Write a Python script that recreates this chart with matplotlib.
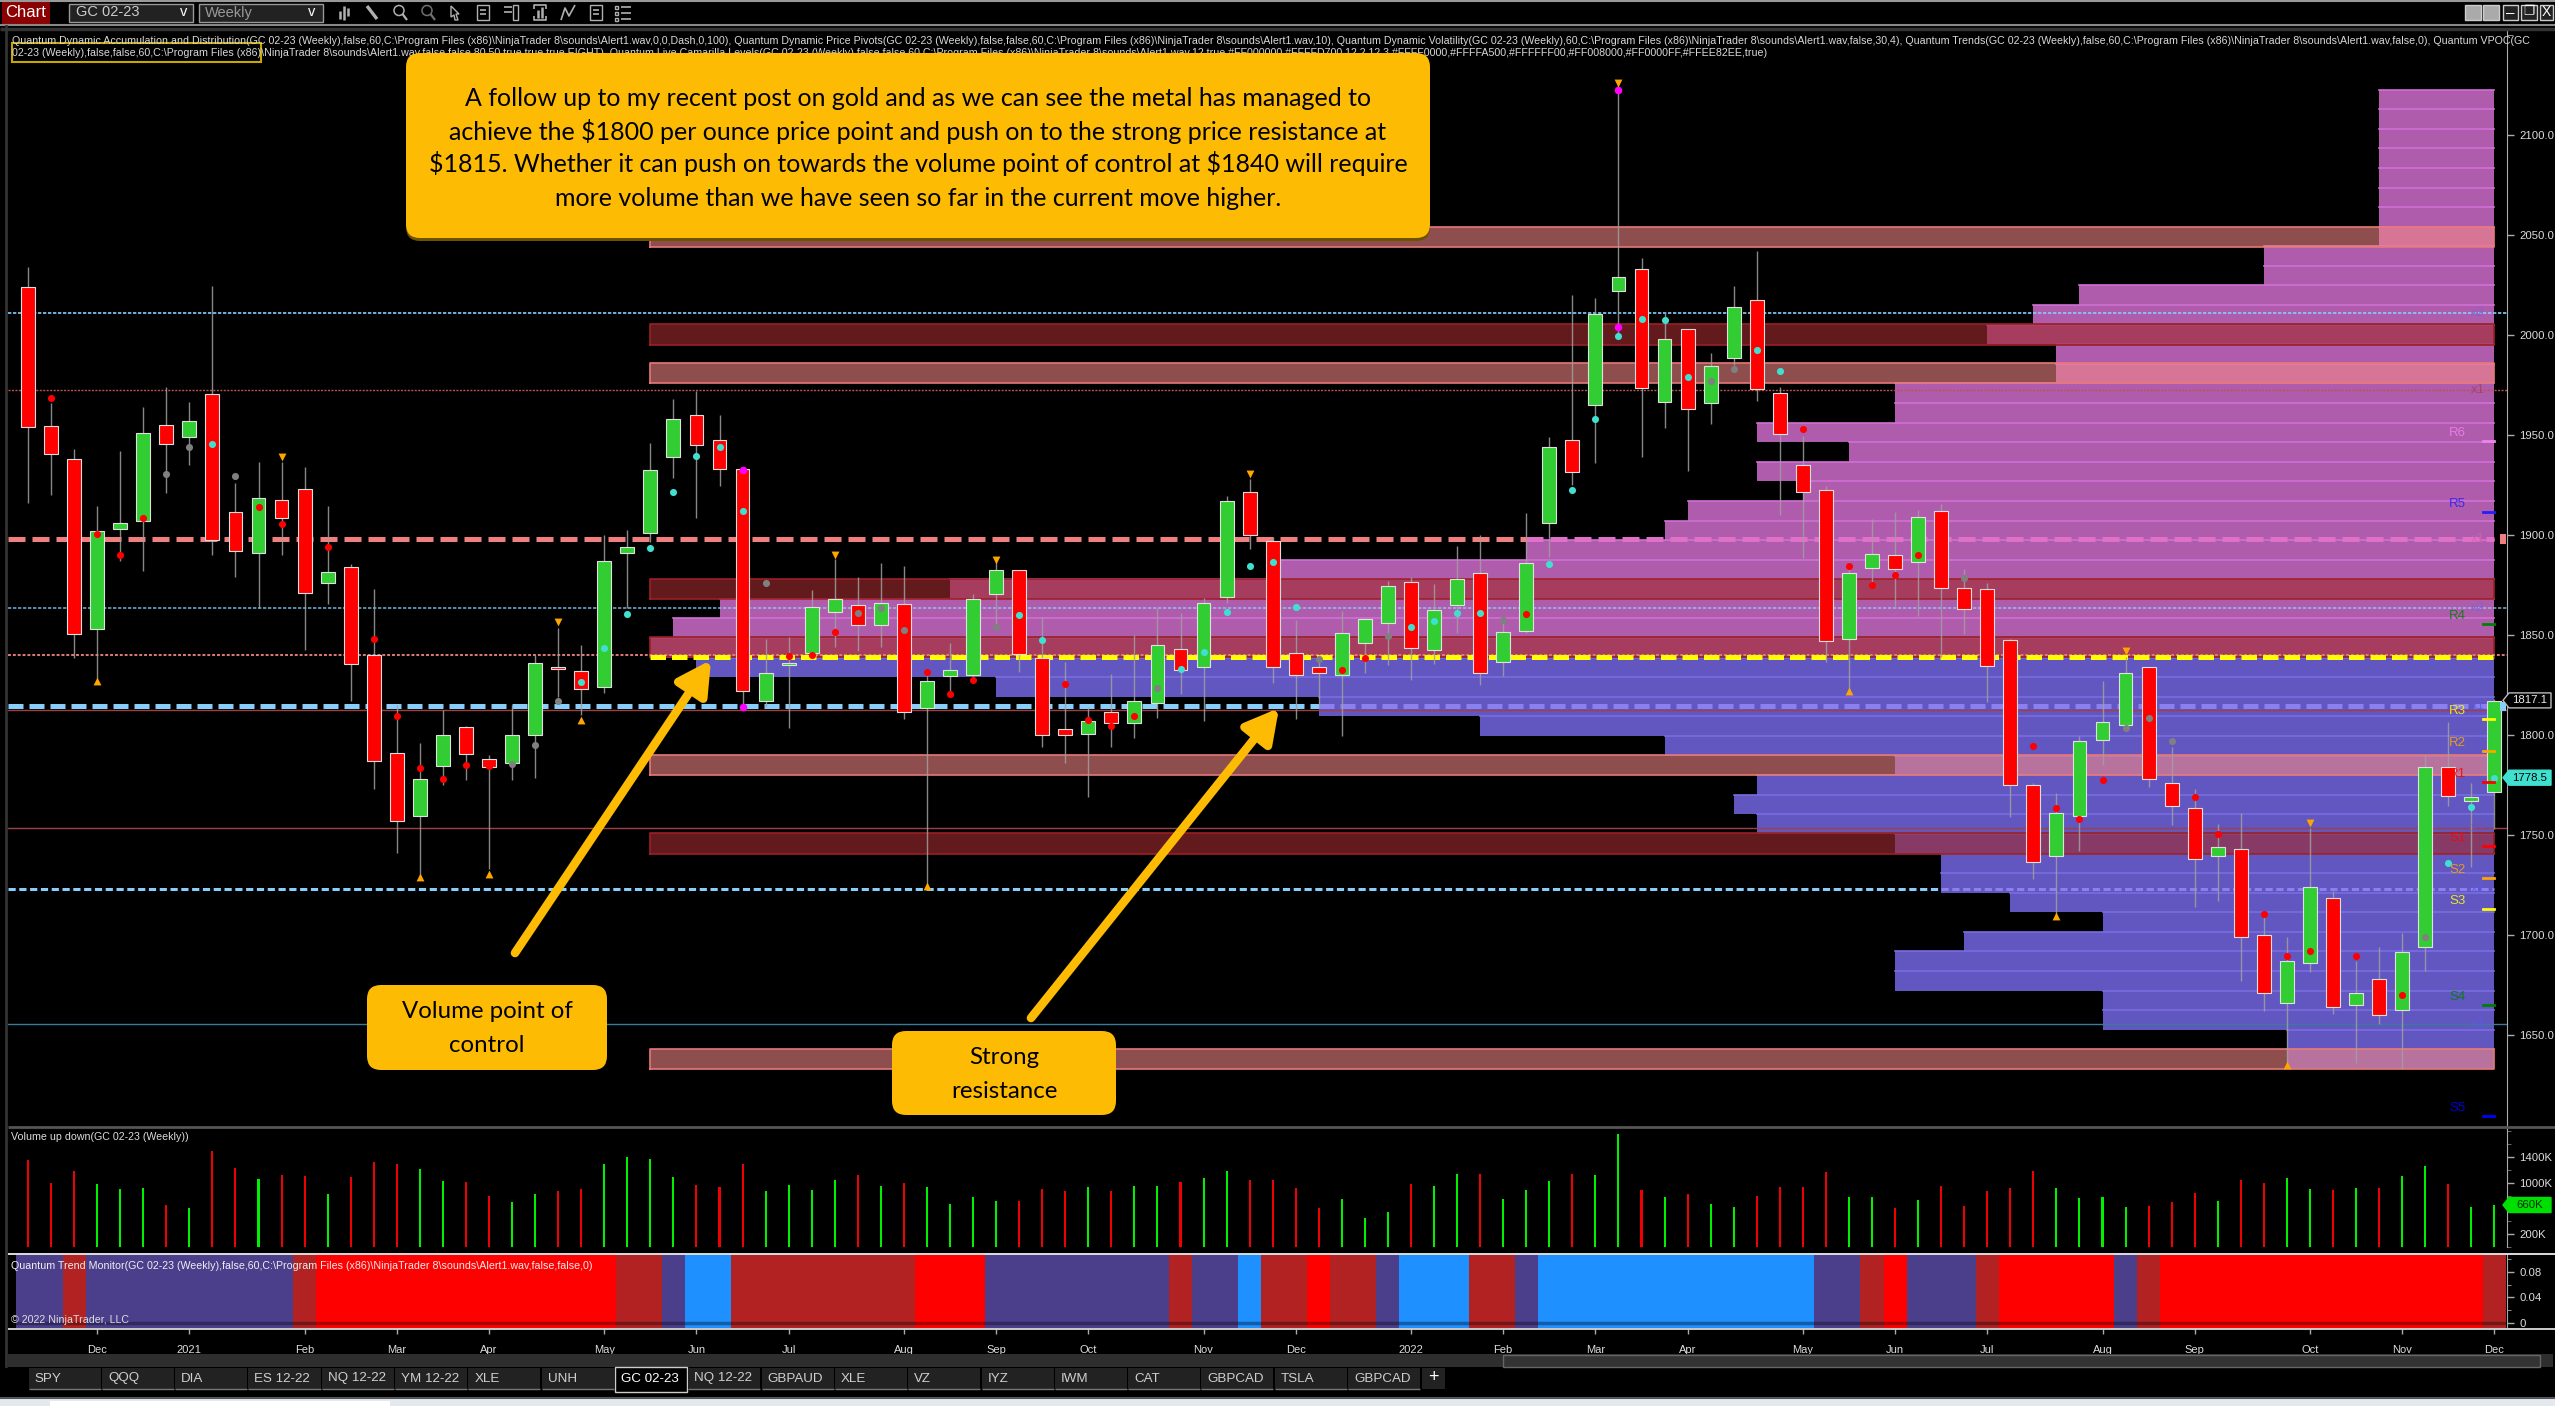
import matplotlib
matplotlib.use("Agg")
import matplotlib.pyplot as plt
from matplotlib.patches import FancyBboxPatch, FancyArrowPatch, Polygon, Rectangle, Circle

W, H = 2555, 1406

UI_FONT = "Liberation Sans"
NOTE_FONT = "Lato"

# weekly candles, GC 02-23
candle_dir = ("RRRGGGRGRR" "GRRGRRRGGR" "RGGRRGGGGR" "RRGGGGRGRG" "GGGRRRGRGG"
              "RGGRRRRGGG" "RGGRGGGRGG" "RGRGGRRRRG" "GRGRRRRRGG" "GGRRRGRRGG" "RGRGGRGG")
candle_high = [2034, 1966, 1943, 1914.5, 1942, 1964, 1974, 1966.5, 2024.5, 1926,
               1936.5, 1936.5, 1934, 1914.5, 1885.5, 1873, 1815, 1796, 1812.5, 1804.5,
               1790, 1815, 1840, 1853.5, 1845, 1900, 1902.5, 1946, 1968, 1972,
               1960, 1933, 1848, 1849, 1872.5, 1888, 1879, 1886, 1884.5, 1830.5,
               1846, 1870.5, 1886.5, 1882.5, 1859, 1836.5, 1814, 1830.5, 1850, 1863.5,
               1861, 1868.5, 1919.5, 1928, 1899, 1857.5, 1840, 1862, 1858, 1877,
               1879, 1875.5, 1894.5, 1900, 1857.5, 1911, 1949, 2020, 2018.5, 2126,
               2038.5, 2011, 2003, 1991, 2024.5, 2042, 1974, 1949.5, 1924.5, 1886.5,
               1908, 1911.5, 1912.5, 1915.5, 1883, 1876, 1848, 1776, 1771, 1799.5,
               1827, 1839, 1834, 1794, 1773, 1755.5, 1761, 1709, 1699, 1753.5,
               1722, 1687, 1694, 1701, 1790, 1806.5, 1776, 1818]
candle_top = [2024, 1954.5, 1938, 1902, 1906, 1951, 1955, 1957, 1970.5, 1911.5,
              1918.5, 1917.5, 1923, 1881.5, 1884, 1840, 1791, 1778, 1800, 1804,
              1788, 1800, 1836, 1834, 1832, 1887, 1894, 1932.5, 1958, 1960,
              1947.5, 1933, 1831, 1836, 1864, 1868, 1865, 1866, 1865.5, 1827,
              1832.5, 1868, 1882.5, 1882.5, 1838.5, 1803, 1807, 1811.5, 1817, 1845,
              1843, 1866, 1917, 1921.5, 1897, 1841, 1834, 1851, 1858, 1874.5,
              1876.5, 1862.5, 1878, 1881, 1851.5, 1886, 1944, 1947.5, 2010.5, 2029,
              2033, 1998, 2003, 1984.5, 2014, 2017.5, 1971, 1935, 1922.7, 1881,
              1890.5, 1890, 1909, 1912, 1873.7, 1873, 1847.7, 1775, 1761, 1797,
              1806.5, 1831, 1834, 1776, 1763.5, 1744, 1743, 1700, 1687, 1724,
              1718.5, 1671, 1678, 1691.5, 1784, 1784, 1769, 1817]
candle_bot = [1954, 1940.5, 1850.5, 1853, 1903, 1907, 1945.5, 1949, 1897.5, 1892,
              1891, 1908.5, 1871, 1876, 1835.5, 1787, 1757, 1759.5, 1784.5, 1790.5,
              1784, 1786, 1800, 1833, 1823, 1824, 1891, 1901, 1939, 1945,
              1933, 1822, 1817, 1835, 1841, 1861.5, 1855, 1855, 1811.5, 1813.5,
              1829.5, 1830, 1870.5, 1840.5, 1800, 1800, 1800.5, 1806, 1806, 1816,
              1832.5, 1834, 1869, 1900, 1834, 1830, 1831, 1830, 1846, 1856,
              1843.5, 1842.5, 1865, 1831, 1836.5, 1852, 1905.8, 1931.5, 1965, 2022,
              1973.5, 1966.5, 1963, 1966, 1988.5, 1973, 1950.7, 1921.5, 1847, 1848,
              1883.5, 1883, 1886.7, 1873.7, 1863, 1834.7, 1775.2, 1736.7, 1739.5, 1759.5,
              1797.5, 1805, 1778, 1764.7, 1738, 1739.5, 1699, 1671, 1666, 1686,
              1664, 1665, 1660, 1662.5, 1694, 1769.5, 1767, 1771.5]
candle_low = [1916, 1920, 1838.5, 1828, 1887, 1882, 1921, 1935, 1890, 1879,
              1863.5, 1890, 1842.5, 1865.5, 1817, 1773, 1741, 1729, 1775, 1777.5,
              1733, 1777.5, 1778.5, 1819, 1810, 1821, 1863.5, 1896.5, 1928.5, 1908.5,
              1924.5, 1814, 1814, 1803.5, 1840, 1844, 1842, 1844, 1808, 1724,
              1820, 1827, 1853.5, 1831.5, 1794, 1786, 1769, 1794, 1798.5, 1808.5,
              1820.5, 1807, 1866, 1893, 1826, 1808, 1814, 1799.5, 1831, 1835,
              1827.5, 1835.5, 1851, 1825, 1829.5, 1851, 1889, 1925, 1936, 2001,
              1939, 1953.5, 1932, 1955.5, 1985, 1967, 1910, 1888.5, 1836.5, 1822.5,
              1873.5, 1863.5, 1859.5, 1839, 1850.5, 1816.5, 1759, 1728, 1710, 1742,
              1785, 1803, 1774, 1755, 1714, 1717, 1677, 1662, 1635, 1681.5,
              1660.5, 1636, 1655.5, 1633, 1682, 1764.5, 1734, 1753]

# indicator dots: bar index and price
red_i = [1, 3, 4, 5, 10, 11, 13, 15, 16, 17, 18, 19, 20, 33, 34, 35, 39, 40, 41, 45, 46, 47, 48,
         57, 58, 65, 77, 79, 80, 81, 82, 87, 88, 89, 90, 94, 95, 97, 98, 99, 101, 103]
red_p = [1968.5, 1900.5, 1890, 1908.5, 1914, 1905.5, 1894, 1848, 1809.5, 1783.5, 1778, 1785, 1784.5,
         1839.5, 1840, 1851.5, 1831.5, 1820.7, 1827.5, 1825.5, 1807.5, 1804.7, 1809.5,
         1832.7, 1838.5, 1860.5, 1953, 1884.5, 1875, 1880, 1890, 1794.7, 1763.5, 1758, 1777.7,
         1769, 1750.5, 1710.7, 1689.3, 1692, 1689.3, 1670]
cyan_i = [8, 24, 25, 26, 27, 28, 29, 30, 31, 43, 44, 50, 51, 52, 53, 54, 55, 60, 61, 62, 63,
          66, 67, 68, 69, 70, 71, 72, 75, 76, 105, 106, 107]
cyan_p = [1945.5, 1826.5, 1843.5, 1860.5, 1893.5, 1921.5, 1939.5, 1944, 1912, 1860, 1847.5,
          1833, 1841.5, 1861.5, 1884.5, 1886.5, 1864, 1854, 1857, 1861, 1861,
          1885.6, 1922.5, 1958, 1999.5, 2008, 2007.5, 1979, 1992.5, 1982, 1736, 1764, 1778.5]
gray_i = [6, 7, 9, 21, 22, 23, 32, 36, 37, 38, 42, 49, 56, 59, 64, 73, 74, 84, 91, 92, 93, 104]
gray_p = [1930.5, 1944, 1929.5, 1785.5, 1795, 1817, 1876, 1861, 1863.7, 1852.5, 1854, 1823.5,
          1838, 1849.5, 1857.5, 1977, 1983, 1878.5, 1803.5, 1808.5, 1797, 1699]
magenta_i = [69, 69, 31, 31]
magenta_p = [2122.5, 2004, 1932.5, 1814]
tri_up_i = [3, 17, 20, 24, 39, 79, 88, 98]
tri_up_p = [1827, 1729, 1730.5, 1807.5, 1724.5, 1822, 1709.5, 1635]
tri_dn_i = [11, 23, 35, 42, 53, 69, 91, 99]
tri_dn_p = [1939, 1856.5, 1890, 1887.5, 1930.5, 2126, 1842, 1756]

# volume profile, top row first
vp_top = 2122.7
vp_step = 9.794
vp_volume = [5, 5, 5, 5, 5, 5, 5, 5, 10, 10, 18, 20, 22, 19, 19, 26, 26, 32, 28, 32, 30,
             35, 36, 42, 53, 67, 77, 79, 80, 78, 65, 51, 44, 36, 26, 32, 33, 32, 26, 24, 24,
             21, 17, 23, 26, 26, 17, 17, 9, 9]
vp_right = 107
vp_upper_rows = 29

# supply and demand zones (high, low)
light_zones = [(2054, 2044), (1986, 1976), (1790, 1780), (1643, 1633)]
dark_zones = [(2005.5, 1995), (1878, 1868), (1849, 1839), (1751, 1740.7)]
zone_start = 27

# camarilla pivots
pivot_names = ["R6", "R5", "R4", "R3", "R2", "R1", "S1", "S2", "S3", "S4", "S5"]
pivot_prices = [1947, 1911.5, 1855.7, 1808, 1792, 1776.5, 1744.5, 1728.5, 1713, 1665, 1609.5]
pivot_colors = ["#EE82EE", "#2020FF", "#008000", "#FFFF00", "#FFA500", "#FF0000",
                "#FF0000", "#FFA500", "#FFFF00", "#008000", "#0000FF"]

vol_labels = [("x2", 2011, "#7a62d8"), ("x1", 1972.5, "#a0406a"), ("x1", 1897.8, "#d860b0"),
              ("x2", 1863.5, "#7a62d8"), ("x1", 1814.5, "#5a5ae8"), ("x1", 1753.7, "#7a50a0"),
              ("x1", 1723, "#5a5ae8"), ("x1", 1655.7, "#5a5ae8")]

# volume in thousands, one per candle
volume = [1352, 998, 1180, 988, 905, 915, 650, 603, 1498, 1227, 1056, 1118, 1102, 832, 1087, 1326,
          1290, 1212, 1030, 1009, 790, 697, 822, 868, 900, 1290, 1404, 1368, 1092, 967, 936, 1290,
          868, 962, 884, 1040, 1123, 946, 998, 936, 676, 775, 718, 712, 900, 868, 931, 868, 946,
          946, 1009, 1071, 1186, 1040, 1050,
          926, 608, 749, 447, 541, 988, 946, 1144, 1144, 744, 884, 1024, 1144, 1123, 1758, 884,
          780, 822, 676, 624, 790, 931, 936, 1165, 775, 775, 603, 738, 946, 634, 874, 915, 1180,
          915, 759, 775, 619, 634, 697, 837, 712, 1040, 993, 1082, 900, 884, 926, 926, 1102, 1258,
          988, 624, 650]

# trend monitor states as runs of bars
trend_states = ["slate", "brown", "slate", "brown", "red", "brown", "slate", "blue", "brown", "red",
                "slate", "brown", "slate", "blue", "brown", "red", "brown", "slate", "blue", "brown",
                "slate", "blue", "slate", "brown", "red", "slate", "brown", "red", "slate", "brown",
                "red", "brown"]
trend_runs = [2, 1, 9, 1, 13, 2, 1, 2, 8, 3, 8, 1, 2, 1, 2, 1, 2, 1, 3, 2, 1, 12, 2, 1, 1, 3, 1, 5, 1, 1, 14, 1]
trend_colors = {"slate": "#4B3F8C", "brown": "#B22222", "red": "#FF0000", "blue": "#1E90FF"}

month_ticks = [3, 7, 12, 16, 20, 25, 29, 33, 38, 42, 46, 51, 55, 60, 64, 68, 72, 77, 81, 85, 90, 94, 99, 103, 107]
month_labels = ["Dec", "2021", "Feb", "Mar", "Apr", "May", "Jun", "Jul", "Aug", "Sep", "Oct", "Nov", "Dec",
                "2022", "Feb", "Mar", "Apr", "May", "Jun", "Jul", "Aug", "Sep", "Oct", "Nov", "Dec"]

tab_names = ["SPY", "QQQ", "DIA", "ES 12-22", "NQ 12-22", "YM 12-22", "XLE", "UNH", "GC 02-23", "NQ 12-22",
             "GBPAUD", "XLE", "VZ", "IYZ", "IWM", "CAT", "GBPCAD", "TSLA", "GBPCAD"]

indicator_line1 = (r"Quantum Dynamic Accumulation and Distribution(GC 02-23 (Weekly),false,60,C:\Program Files (x86)\NinjaTrader 8\sounds\Alert1.wav,0,0,Dash,0,100), "
                   r"Quantum Dynamic Price Pivots(GC 02-23 (Weekly),false,false,60,C:\Program Files (x86)\NinjaTrader 8\sounds\Alert1.wav,10), "
                   r"Quantum Dynamic Volatility(GC 02-23 (Weekly),60,C:\Program Files (x86)\NinjaTrader 8\sounds\Alert1.wav,false,30,4), "
                   r"Quantum Trends(GC 02-23 (Weekly),false,60,C:\Program Files (x86)\NinjaTrader 8\sounds\Alert1.wav,false,0), Quantum VPOC(GC")
indicator_line2 = (r"02-23 (Weekly),false,false,60,C:\Program Files (x86)\NinjaTrader 8\sounds\Alert1.wav,false,false,80,50,true,true,true,EIGHT), "
                   r"Quantum Live Camarilla Levels(GC 02-23 (Weekly),false,false,60,C:\Program Files (x86)\NinjaTrader 8\sounds\Alert1.wav,12,true,"
                   r"#FF000000,#FFFFD700,12,2,12,3,#FFFF0000,#FFFFA500,#FFFFFF00,#FF008000,#FF0000FF,#FFEE82EE,true)")
trend_title = r"Quantum Trend Monitor(GC 02-23 (Weekly),false,60,C:\Program Files (x86)\NinjaTrader 8\sounds\Alert1.wav,false,false,0)"

main_note = ["A follow up to my recent post on gold and as we can see the metal has managed to",
             "achieve the \\$1800 per ounce price point and push on to the strong price resistance at",
             "\\$1815. Whether it can push on towards the volume point of control at \\$1840 will require",
             "more volume than we have seen so far in the current move higher."]

# px helpers
BAR0, BAR_W = 28.0, 23.05
XMIN = (8 - BAR0) / BAR_W
XMAX = (2507 - BAR0) / BAR_W
PX_PT = 0.72
SMALL = 7.7

plt.rcParams["font.family"] = [UI_FONT, "DejaVu Sans"]
fig = plt.figure(figsize=(W / 100, H / 100), dpi=100, facecolor="black")


def panel(top, bottom, left=8, right=2507):
    ax = fig.add_axes([left / W, 1 - bottom / H, (right - left) / W, (bottom - top) / H])
    ax.set_facecolor("black")
    for s in ["left", "top", "bottom"]:
        ax.spines[s].set_visible(False)
    ax.spines["right"].set_color("#aaaaaa")
    ax.yaxis.tick_right()
    ax.set_xlim(XMIN, XMAX)
    ax.tick_params(axis="y", colors="#dddddd", labelsize=8.2, length=5, width=1, pad=4, color="#aaaaaa")
    ax.set_xticks([])
    return ax


# ---- price panel
ax = panel(31, 1127)
ax.set_ylim(1604, 2152)
ax.set_yticks(range(1650, 2101, 50))
ax.set_yticklabels(["%.1f" % v for v in range(1650, 2101, 50)])
ax.set_yticks([2150], minor=True)
ax.tick_params(axis="y", which="minor", length=4, color="#aaaaaa")

# volume profile
for r, v in enumerate(vp_volume):
    upper = r < vp_upper_rows
    ax.barh(vp_top - (r + 0.5) * vp_step, v, height=vp_step, left=vp_right - v,
            color="#B05CAC" if upper else "#6256C0", edgecolor="none", zorder=1)
    ax.plot([vp_right - v, vp_right], [vp_top - r * vp_step] * 2,
            color="#D070D4" if upper else "#7A6CE0", lw=1.2, zorder=1.1)

# zones
for hi, lo in light_zones:
    ax.add_patch(Rectangle((zone_start, lo), vp_right - zone_start, hi - lo, facecolor="#F48787", alpha=0.585,
                           edgecolor="none", zorder=2))
    ax.plot([zone_start, vp_right, vp_right, zone_start, zone_start], [lo, lo, hi, hi, lo], color="#E87878", lw=1.2, zorder=2.1)
for hi, lo in dark_zones:
    ax.add_patch(Rectangle((zone_start, lo), vp_right - zone_start, hi - lo, facecolor="#A02A30", alpha=0.625,
                           edgecolor="none", zorder=2))
    ax.plot([zone_start, vp_right, vp_right, zone_start, zone_start], [lo, lo, hi, hi, lo], color="#9A2026", lw=1.2, zorder=2.1)

# level lines
ax.axhline(2011, color="#87CEFA", lw=1.2, dashes=(2, 1), zorder=3)
ax.axhline(1972.5, color="#C05050", lw=1, dashes=(1.5, 1), zorder=3)
ax.axhline(1863.5, color="#87CEFA", lw=1.2, dashes=(2, 1), alpha=0.8, zorder=3)
ax.axhline(1840, color="#E07A7A", lw=1.4, dashes=(1.5, 1), zorder=3)
ax.axhline(1812.5, color="#A04040", lw=1, zorder=3)
ax.axhline(1753.7, color="#A04040", lw=1, zorder=3)
ax.axhline(1655.7, color="#3A7A9A", lw=1, zorder=3)


def thick_level(price, split, over_black, over_vp, px, dashes):
    # the line turns paler where it crosses the profile
    ax.plot([XMIN, split], [price, price], color=over_black, lw=px * PX_PT, dashes=dashes, zorder=3)
    ax.plot([split, vp_right], [price, price], color=over_vp, lw=px * PX_PT, dashes=dashes, zorder=3)


thick_level(1897.8, 65, "#F08080", "#E070C8", 5, (3.4, 1.4))
thick_level(1814.5, 56, "#87CEFA", "#8A80F0", 5, (3, 1.2))
thick_level(1723, 83, "#87CEFA", "#8A80F0", 3, (2.4, 1.2))
ax.plot([zone_start, vp_right], [1839, 1839], color="#FFFF00", lw=5 * PX_PT, dashes=(3.1, 1.2), zorder=3.2)

# candles
xs = list(range(len(candle_dir)))
ax.vlines(xs, candle_low, candle_high, color="#A0A0A0", lw=1, alpha=0.85, zorder=4)
for i in xs:
    up = candle_dir[i] == "G"
    ax.bar(i, candle_top[i] - candle_bot[i], bottom=candle_bot[i], width=0.6,
           color="#32CD32" if up else "#FF0000", edgecolor="#E0E0E0", linewidth=0.8, zorder=5)

# dots and triangles
ax.scatter(gray_i, gray_p, s=26, color="#808080", zorder=6, linewidths=0)
ax.scatter(red_i, red_p, s=26, color="#FF0000", zorder=6, linewidths=0)
ax.scatter(cyan_i, cyan_p, s=26, color="#40E0D0", zorder=6, linewidths=0)
ax.scatter(magenta_i, magenta_p, s=30, color="#FF00FF", zorder=6, linewidths=0)
ax.scatter(tri_up_i, tri_up_p, s=32, marker="^", color="#FFA500", zorder=6, linewidths=0)
ax.scatter(tri_dn_i, tri_dn_p, s=32, marker="v", color="#FFA500", zorder=6, linewidths=0)

# pivots
for name, p, c in zip(pivot_names, pivot_prices, pivot_colors):
    ax.plot([106.5, 106.98], [p, p], color=c, lw=2, zorder=6)
    ax.text(105.4, p + 4, name, color=c, fontsize=9.5, ha="center", va="center", zorder=6, alpha=0.85)
for name, p, c in vol_labels:
    ax.text(106.3, p, name, color=c, fontsize=9.5, ha="center", va="center", zorder=6, alpha=0.85)

# ---- volume panel
vx = panel(1127, 1247)
vx.set_ylim(0, 1869)
vx.bar(xs, volume, width=0.09, color=["#00F000" if d == "G" else "#F00000" for d in candle_dir])
vx.set_yticks([200, 600, 1000, 1400])
vx.set_yticklabels(["200K", "600K", "1000K", "1400K"])
vx.set_yticks(range(0, 1801, 200), minor=True)
vx.tick_params(axis="y", which="minor", colors="#777777", length=3)
vx.text(XMIN + 0.15, 1709, "Volume up down(GC 02-23 (Weekly))", color="#dddddd", fontsize=SMALL, va="center")

# ---- trend monitor panel
tx = panel(1254, 1328)
tx.set_ylim(-0.007, 0.107)
pos = 0
for state, run in zip(trend_states, trend_runs):
    tx.bar([pos + k for k in range(run)], 0.114, bottom=-0.007, width=1.0, color=trend_colors[state], linewidth=0)
    pos += run
tx.axhline(0, color="#000000", lw=2.5, alpha=0.35)
tx.set_yticks([0, 0.04, 0.08])
tx.set_yticklabels(["0", "0.04", "0.08"])
tx.set_yticks([0.02, 0.06, 0.1], minor=True)
tx.tick_params(axis="y", which="minor", length=3, color="#aaaaaa")
tx.set_xticks(month_ticks)
tx.set_xticklabels(month_labels)
tx.tick_params(axis="x", colors="#dddddd", labelsize=8, length=4, width=1, pad=8, color="#aaaaaa")
tx.text(XMIN + 0.15, 0.0885, trend_title, color="#eeeeee", fontsize=SMALL, va="center")
tx.text(XMIN + 0.15, 0.0055, "\u00a9 2022 NinjaTrader, LLC", color="#dddddd", fontsize=SMALL, va="center")

# ---- overlay in pixels for the platform chrome and the notes
ov = fig.add_axes([0, 0, 1, 1], facecolor="none")
ov.set_xlim(0, W)
ov.set_ylim(H, 0)
ov.axis("off")


def hline(y, c, lw=1.5, x0=0, x1=W):
    ov.plot([x0, x1], [y, y], color=c, lw=lw, solid_capstyle="butt")


def box(x0, y0, x1, y1, fc, ec="none", lw=1):
    ov.add_patch(Rectangle((x0, y0), x1 - x0, y1 - y0, facecolor=fc, edgecolor=ec, linewidth=lw))


def label(x, y, s, c="#dddddd", fs=SMALL, ha="center"):
    ov.text(x, y, s, color=c, fontsize=fs, ha=ha, va="center")


def stroke(xs_, ys_, c="#b0b0b0", lw=1.2):
    ov.plot(xs_, ys_, color=c, lw=lw, solid_capstyle="butt")


def icon(kind, x):
    if kind == "bars":
        for dx, y0, y1 in [(-4, 11, 19), (0, 6, 20), (4, 8, 16)]:
            stroke([x + dx, x + dx], [y0, y1], lw=1.8)
    elif kind == "pencil":
        stroke([x - 5, x + 5], [6, 19], lw=2.4)
    elif kind in ("zoom_in", "zoom_out"):
        ov.add_patch(Circle((x - 1, 10.5), 5, facecolor="none", edgecolor="#b0b0b0" if kind == "zoom_in" else "#707070", linewidth=1.1))
        stroke([x + 2.5, x + 7], [14, 20], c="#b0b0b0" if kind == "zoom_in" else "#707070", lw=1.6)
    elif kind == "arrow":
        ov.add_patch(Polygon([(x - 4, 6), (x + 4, 14), (x + 1, 14), (x + 3, 20), (x, 20), (x - 1, 15), (x - 4, 17)],
                             facecolor="none", edgecolor="#b0b0b0", linewidth=1))
    elif kind == "doc":
        box(x - 6, 5, x + 6, 20, "none", "#b0b0b0", 1)
        stroke([x - 3, x + 3], [10, 10])
        stroke([x - 3, x + 3], [14, 14])
    elif kind == "list":
        for y in [7, 13, 19]:
            box(x - 8, y - 1.5, x - 5, y + 1.5, "none", "#b0b0b0", 1)
            stroke([x - 2, x + 8], [y, y])
    elif kind == "line":
        stroke([x - 7, x - 3, x + 1, x + 7], [20, 8, 16, 5])
    elif kind == "bracket":
        stroke([x - 6, x - 6, x + 6, x + 6], [9, 5, 5, 9])
        stroke([x - 6, x - 6, x + 6, x + 6], [16, 20, 20, 16])
        stroke([x - 2, x - 2], [10, 18], lw=1.8)
        stroke([x + 2, x + 2], [7, 18], lw=1.8)
    elif kind == "panel":
        box(x + 1, 5, x + 6, 20, "none", "#b0b0b0", 1)
        stroke([x - 8, x], [7, 7])
        stroke([x - 8, x], [12, 12])


hline(0.8, "#999999")
hline(24.5, "#888888")
hline(28.5, "#333333", lw=2.5)
hline(1127, "#555555", lw=2, x0=8, x1=W)
hline(1254, "#dddddd", lw=1.4, x0=8, x1=W)
hline(1329, "#cccccc", lw=1.4, x0=8, x1=W)
ov.plot([6, 6], [26, 1366], color="#333333", lw=2)

box(2, 1, 50, 24, "#8B0000")
label(26, 12.5, "Chart", "white", 12)
box(69, 3.5, 193, 21.5, "#222222", "#999999", 1)
label(76, 12.5, "GC 02-23", "#cccccc", 10.5, "left")
label(184, 12, "v", "white", 10.5)
box(199, 3.5, 323, 21.5, "#222222", "#999999", 1)
label(205, 12.5, "Weekly", "#999999", 10.5, "left")
label(312, 12, "v", "white", 10.5)
for kind, x in [("bars", 344), ("pencil", 372), ("zoom_in", 400), ("zoom_out", 428), ("arrow", 455), ("doc", 483),
                ("panel", 512), ("bracket", 540), ("line", 568), ("doc", 596), ("list", 623)]:
    icon(kind, x)

for x0, x1, c in [(2465, 2481, "#aaaaaa"), (2483, 2499, "#aaaaaa"), (2503, 2518, "#222222"), (2521, 2537, "#222222"), (2540, 2553, "#222222")]:
    box(x0, 5, x1, 20, c, "#cccccc", 1)
label(2510.5, 13, "\u2013", "white", 11)
label(2529, 12, "\u2750", "white", 9)
label(2546.5, 12, "X", "white", 10)

# indicator labels
label(12, 41, indicator_line1, "#d8d8d8", SMALL, "left")
label(12, 53, indicator_line2, "#d8d8d8", SMALL, "left")
ov.add_patch(Rectangle((12, 43), 249, 19, facecolor="none", edgecolor="#C8A800", linewidth=1.5))

# little markers where the levels meet the axis
box(2500, 534, 2506, 544, "#F08080")
box(2500, 702, 2506, 711, "#87CEFA")


# last price tags
def tag(y, text, fc, ec, tc):
    ov.add_patch(Polygon([(2503, y), (2509, y - 7.5), (2551, y - 7.5), (2551, y + 7.5), (2509, y + 7.5)],
                         closed=True, facecolor=fc, edgecolor=ec, linewidth=1))
    label(2530, y, text, tc, 8.2)


tag(700.4, "1817.1", "#000000", "#bbbbbb", "#eeeeee")
tag(777.7, "1778.5", "#40E0D0", "#40E0D0", "#000000")
tag(1205, "660K", "#00E000", "#00E000", "#003000")

# scroll bar and tabs
box(8, 1354, 2553, 1367, "#2E2E2E")
box(1503, 1354.5, 2540, 1366.5, "#333333", "#666666", 1)
for k, name in enumerate(tab_names):
    x0 = 28.6 + 73.3 * k
    active = name == "GC 02-23"
    box(x0, 1367 if active else 1368, x0 + 72, 1392 if active else 1389, "#000000" if active else "#222222",
        "#cccccc" if active else "none", 1)
    if not active:
        hline(1389.3, "#777777", lw=1, x0=x0, x1=x0 + 72)
    label(x0 + 6, 1378.5, name, "#ffffff" if active else "#cfcfcf", 9.6, "left")
box(1422, 1368, 1445, 1389, "#222222")
label(1433.5, 1378, "+", "white", 13)

hline(1398, "#555555", lw=1.5)
box(0, 1399, W, H, "#E4E9EF")
box(50, 1401, 390, H, "#FFFFFF")

# arrows of the notes
NOTE = "#FDBB04"
for start, tip in [((515, 953), (711, 660)), ((1031, 1018), (1279, 708))]:
    ov.add_patch(FancyArrowPatch(start, tip, arrowstyle="-|>,head_length=0.55,head_width=0.3", mutation_scale=36,
                                 color=NOTE, lw=6.2, capstyle="round", shrinkA=0, shrinkB=0, zorder=8))


def note(x0, y0, x1, y1, lines, fs, shadow=False, rad=14):
    if shadow:
        ov.add_patch(FancyBboxPatch((x0 + rad, y0 + rad + 3), x1 - x0 - 2 * rad, y1 - y0 - 2 * rad,
                                    boxstyle="round,pad=%d,rounding_size=%d" % (rad, rad), facecolor="#6E5200",
                                    edgecolor="none", zorder=8))
    ov.add_patch(FancyBboxPatch((x0 + rad, y0 + rad), x1 - x0 - 2 * rad, y1 - y0 - 2 * rad,
                                boxstyle="round,pad=%d,rounding_size=%d" % (rad, rad), facecolor=NOTE,
                                edgecolor="none", zorder=9))
    for y, s in lines:
        ov.text((x0 + x1) / 2, y, s, color="black", fontsize=fs, family=[NOTE_FONT, "DejaVu Sans"],
                ha="center", va="center", zorder=10)


note(406, 53, 1430, 238, list(zip([98, 131, 164, 198], main_note)), 18, shadow=True)
note(367, 985, 607, 1070, [(1011, "Volume point of"), (1045, "control")], 17.3)
note(892, 1031, 1116, 1115, [(1058, "Strong"), (1091, "resistance")], 17.3)

fig.savefig("out.png", dpi=100, facecolor="black")
